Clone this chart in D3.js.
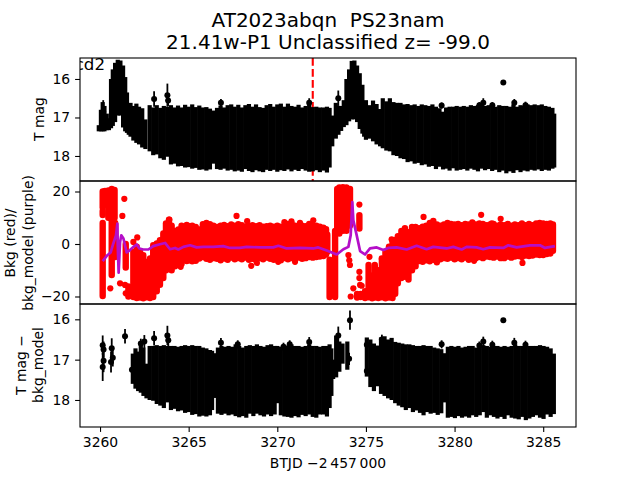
<!DOCTYPE html>
<html>
<head>
<meta charset="utf-8">
<script src="https://cdn.jsdelivr.net/npm/d3@7/dist/d3.min.js"></script>
<style>
    html, body { margin: 0; padding: 0; background: #fff; }
    svg { display: block; }
    text { font-family: "DejaVu Sans", sans-serif; fill: #000; white-space: pre; }
    .tick text { font-size: 13.9px; }
    .tick line, .domain { stroke: #000; stroke-width: 1.1px; }
</style>
</head>
<body>
<svg id="chart" width="640" height="480"></svg>
<script>
'use strict'

const titleLines = ['AT2023abqn  PS23nam', '21.41w-P1 Unclassified z= -99.0']
const sectorLabel = 's72 cam3ccd2'
const xLabel = 'BTJD \u22122\u2009457\u2009000'
const xTicks = [3260, 3265, 3270, 3275, 3280, 3285]
const magTicks = [16, 17, 18]
const bkgTicks = [-20, 0, 20]
const discoveryDate = 3272.0

// [BTJD, brightest edge, faintest edge]
const magBand = [
    [3259.93, 17.2, 17.36], [3260.05, 16.8, 17.36], [3260.15, 16.6, 17.36], [3260.25, 16.7, 17.36], [3260.38, 16.9, 17.33],
    [3260.5, 17.02, 17.33], [3260.62, 16.0, 17.28], [3260.72, 15.75, 17.22], [3260.85, 15.58, 17.12], [3261.0, 15.5, 16.95],
    [3261.15, 15.52, 16.95], [3261.3, 15.65, 17.26], [3261.42, 15.95, 17.36], [3261.52, 16.35, 17.4], [3261.62, 16.75, 17.45], [3261.72, 16.62, 17.5],
    [3261.88, 16.7, 17.6], [3262.05, 16.64, 17.66], [3262.2, 16.72, 17.7], [3262.38, 16.76, 17.78], [3262.56, 17.05, 17.82],
    [3262.8, 16.68, 17.88], [3263.0, 16.74, 17.98], [3263.2, 16.68, 17.96], [3263.4, 16.75, 18.06], [3263.6, 16.7, 18.1],
    [3263.8, 16.72, 18.02], [3264.0, 16.68, 18.22], [3264.2, 16.74, 18.2], [3264.4, 16.69, 18.27], [3264.6, 16.74, 18.26],
    [3264.8, 16.67, 18.3], [3265.0, 16.72, 18.29], [3265.2, 16.66, 18.33], [3265.4, 16.73, 18.31], [3265.6, 16.69, 18.36],
    [3265.8, 16.74, 18.35], [3266.0, 16.73, 18.38], [3266.2, 16.77, 18.35], [3266.4, 16.82, 18.2], [3266.6, 16.75, 18.34],
    [3266.8, 16.69, 18.36], [3267.0, 16.74, 18.33], [3267.2, 16.68, 18.38], [3267.4, 16.66, 18.36], [3267.6, 16.72, 18.4],
    [3267.8, 16.67, 18.38], [3268.0, 16.74, 18.41], [3268.2, 16.68, 18.34], [3268.4, 16.65, 18.39], [3268.6, 16.72, 18.42],
    [3268.8, 16.66, 18.37], [3269.0, 16.73, 18.4], [3269.2, 16.75, 18.42], [3269.4, 16.68, 18.36], [3269.6, 16.65, 18.39],
    [3269.8, 16.72, 18.36], [3270.0, 16.66, 18.41], [3270.2, 16.64, 18.37], [3270.4, 16.72, 18.39], [3270.6, 16.64, 18.35],
    [3270.8, 16.7, 18.4], [3271.0, 16.72, 18.36], [3271.2, 16.67, 18.39], [3271.4, 16.74, 18.34], [3271.6, 16.7, 18.38],
    [3271.8, 16.66, 18.41], [3272.0, 16.73, 18.4], [3272.2, 16.72, 18.37], [3272.4, 16.74, 18.42], [3272.6, 16.74, 18.38],
    [3272.8, 16.72, 18.43], [3272.95, 16.75, 18.3], [3273.1, 16.95, 17.75], [3273.3, 16.62, 17.55], [3273.45, 16.7, 17.45],
    [3273.6, 16.7, 17.35], [3273.75, 16.55, 17.25], [3273.9, 16.0, 17.2], [3274.05, 15.75, 17.1], [3274.2, 15.53, 17.05],
    [3274.35, 15.52, 17.05], [3274.5, 15.65, 17.12], [3274.65, 15.85, 17.3], [3274.8, 16.15, 17.42], [3274.9, 16.6, 17.5], [3275.0, 16.55, 17.58],
    [3275.2, 16.68, 17.55], [3275.4, 16.56, 17.62], [3275.6, 16.65, 17.7], [3275.8, 16.78, 17.75], [3275.95, 16.5, 17.8],
    [3276.15, 16.58, 17.86], [3276.35, 16.5, 17.88], [3276.55, 16.6, 17.98], [3276.75, 16.62, 18.0], [3276.95, 16.62, 18.06],
    [3277.15, 16.66, 18.08], [3277.35, 16.65, 18.16], [3277.55, 16.68, 18.14], [3277.75, 16.66, 18.2], [3277.95, 16.7, 18.18],
    [3278.15, 16.66, 18.24], [3278.35, 16.68, 18.22], [3278.55, 16.7, 18.28], [3278.75, 16.66, 18.26], [3278.95, 16.72, 18.34],
    [3279.15, 16.76, 18.28], [3279.35, 16.85, 18.35], [3279.52, 16.74, 18.33], [3279.72, 16.72, 18.38], [3279.92, 16.72, 18.32],
    [3280.12, 16.7, 18.38], [3280.32, 16.72, 18.36], [3280.52, 16.7, 18.34], [3280.72, 16.72, 18.38], [3280.92, 16.68, 18.33],
    [3281.12, 16.7, 18.36], [3281.32, 16.68, 18.4], [3281.52, 16.64, 18.33], [3281.72, 16.7, 18.37], [3281.92, 16.68, 18.34],
    [3282.12, 16.66, 18.39], [3282.32, 16.72, 18.36], [3282.52, 16.68, 18.42], [3282.72, 16.7, 18.38], [3282.92, 16.7, 18.45],
    [3283.12, 16.72, 18.4], [3283.32, 16.66, 18.44], [3283.52, 16.72, 18.37], [3283.72, 16.68, 18.42], [3283.92, 16.7, 18.38],
    [3284.12, 16.66, 18.4], [3284.32, 16.68, 18.36], [3284.52, 16.66, 18.38], [3284.72, 16.68, 18.35], [3284.92, 16.66, 18.39],
    [3285.12, 16.7, 18.36], [3285.32, 16.72, 18.38], [3285.52, 16.75, 18.33], [3285.62, 16.9, 18.3]
]
// [BTJD, mag, error] for the points that stick out of the mass
const magOutliers = [
    [3260.18, 16.85, 0.3], [3263.05, 16.52, 0.2], [3263.8, 16.42, 0.3], [3263.84, 16.56, 0.14], [3266.82, 16.62, 0.1],
    [3271.8, 16.62, 0.12], [3273.44, 16.5, 0.2], [3279.27, 16.69, 0.08], [3281.4, 16.68, 0.08], [3281.62, 16.62, 0.12],
    [3282.13, 16.68, 0.08], [3282.75, 16.09, 0.02], [3283.37, 16.62, 0.1], [3284.0, 16.68, 0.09]
]

// [BTJD, top, bottom] of the red cloud, several rows where it has gaps
const bkgBand = [
    [3260.15, 20, 14], [3260.15, 12.6, 11], [3260.15, 8, -19.8], [3260.28, 20.2, 15], [3260.47, 20.4, 10], [3260.66, 21, -11.8],
    [3260.82, 20.6, 10], [3260.85, 8, -5], [3261.45, 0, -9], [3261.6, -16.2, -20], [3261.88, -3, -20.2], [3262.07, -1, -20.6],
    [3262.26, -3, -20.4], [3262.44, -4.3, -20.7], [3262.63, -6.8, -20.3], [3262.82, -5.5, -20.6], [3263.0, -0.5, -20.2], [3263.2, 0.2, -18],
    [3263.38, 1.4, -15.5], [3263.57, 4, -13], [3263.72, 7.8, -10], [3263.89, 9.3, -9.5], [3264.04, 7, -10], [3264.23, 5, -8.5],
    [3264.42, 5.5, -8], [3264.6, 7, -7.5], [3264.89, 7.3, -6.5], [3265.05, 6.8, -6.2], [3265.2, 7, -6.6], [3265.4, 6.5, -6.4],
    [3265.6, 5.5, -5.5], [3265.8, 7.5, -5], [3266.0, 8, -5.6], [3266.2, 7.5, -6], [3266.4, 7, -5.4], [3266.6, 6.5, -5.6],
    [3266.8, 7, -6.2], [3267.0, 7.3, -5.5], [3267.2, 6.8, -6], [3267.4, 7.4, -5.2], [3267.6, 7, -5.8], [3267.8, 7.5, -5.4],
    [3268.0, 7.2, -5.8], [3268.2, 6.6, -5.2], [3268.4, 7, -6], [3268.6, 7.2, -5.6], [3268.8, 6.8, -6.2], [3269.0, 7.2, -5.4],
    [3269.2, 6.6, -5.8], [3269.4, 6.8, -5.2], [3269.6, 7, -5.6], [3269.8, 6.6, -6], [3270.0, 7, -5.6], [3270.2, 6.6, -6.2],
    [3270.4, 7, -5.4], [3270.6, 7.6, -5.8], [3270.8, 7.8, -5.4], [3271.0, 7, -5.8], [3271.2, 6.8, -5.2], [3271.4, 7, -5.6],
    [3271.6, 6.8, -5.4], [3271.8, 7.6, -5], [3272.0, 7.2, -5.2], [3272.2, 7, -5], [3272.4, 6.6, -4.8], [3272.6, 6.2, -4.6],
    [3272.75, 5.6, -4], [3272.82, 3.5, -3], [3272.95, -6, -20.2], [3273.26, 5, -20.2], [3273.38, 21, 5],
    [3273.5, 21.5, 4], [3273.7, 21.6, 5], [3273.9, 21.5, 5], [3274.1, 21, 7], [3274.63, 11, 5.9], [3274.5, -19, -20.4],
    [3274.7, -19, -20.2], [3274.95, -18, -20.6], [3275.15, -8, -20.3], [3275.35, -12, -20.7], [3275.5, -8, -20.4], [3275.7, -10, -20.6],
    [3275.9, -6, -20.3], [3276.1, -3, -20.7], [3276.3, -1, -20.4], [3276.5, 1, -20.6], [3276.65, 1.5, -19], [3276.8, 3, -15],
    [3277.0, 5, -13], [3277.2, 6, -12.5], [3277.4, 4.5, -13.5], [3277.6, 6.5, -10], [3277.8, 6.5, -8.5], [3278.0, 6, -6.5],
    [3278.2, 6.6, -6.8], [3278.4, 7, -6.2], [3278.6, 8, -6.6], [3278.8, 8.8, -6], [3279.0, 7.4, -7], [3279.2, 7, -5.8],
    [3279.4, 7.4, -5.4], [3279.6, 8, -5.6], [3279.8, 7.6, -5.2], [3280.0, 7.4, -5.8], [3280.2, 7.6, -5.4], [3280.4, 7.2, -5.8],
    [3280.6, 7.6, -5.2], [3280.8, 7.4, -6], [3281.0, 8.2, -5.6], [3281.2, 7.4, -5.4], [3281.4, 7.8, -5], [3281.6, 7.6, -5.4],
    [3281.8, 7.2, -4.8], [3282.0, 7.4, -5], [3282.2, 7.6, -5.2], [3282.4, 7, -4.8], [3282.6, 7.4, -5.4], [3282.8, 7.2, -5.4],
    [3283.0, 7.6, -4.8], [3283.2, 7, -5.2], [3283.4, 7.4, -4.8], [3283.6, 7.2, -4.6], [3283.8, 7.8, -5], [3284.0, 7.2, -4.4],
    [3284.2, 7.6, -4.6], [3284.4, 7.2, -4.4], [3284.6, 7.8, -4], [3284.8, 8, -4.2], [3285.0, 7.8, -4.2], [3285.2, 7.6, -3.8],
    [3285.4, 7.8, -3.6], [3285.55, 7.4, -2.6]
]
// [BTJD, value] for the loose red points
const bkgOutliers = [
    [3260.58, -16.9], [3261.37, 17.2], [3261.26, 10.7], [3261.13, -15], [3261.41, -15.6], [3261.45, -18.8], [3261.88, 0.8], [3262.1, 2.5],
    [3263.91, 9.3], [3264.55, -8.7], [3267.7, 10.7], [3268.3, 8.7], [3268.53, -8.3], [3268.85, -7.2], [3270.4, 8.3], [3270.8, 8.6],
    [3271.28, 8.1], [3272.03, 9.0], [3270.05, -6.8], [3271.0, -6.8], [3274.01, -4.2], [3274.1, -8], [3274.06, -6.2], [3274.14, -20], [3274.29, -16.9],
    [3274.63, 15], [3274.63, -10.6], [3274.63, -13], [3274.67, -15.6], [3274.76, -15.9], [3275.2, -4.9], [3275.89, -5.5], [3276.45, 1.8],
    [3278.25, 10.3], [3281.5, 11.1], [3282.1, 7.9], [3282.6, 9.6], [3283.83, -7.2], [3281.1, -6.4]
]
// [BTJD, value] for the purple model line
const bkgModel = [
    [3260.15, -6.5], [3260.38, -4.5], [3260.6, -3.2], [3260.75, 0.2], [3260.9, 3.3], [3260.98, 7.8], [3261.0, -0.5], [3261.05, -10.9],
    [3261.13, 0.8], [3261.2, 3.3], [3261.32, 2.1], [3261.5, -3.2], [3261.69, -2.3], [3261.88, -1.1], [3262.07, -0.2], [3262.22, -1.7],
    [3262.44, -2.1], [3262.73, -2.1], [3263.0, -0.8], [3263.38, -0.1], [3263.67, 0.4], [3263.95, -2.0], [3264.23, -1.5], [3264.42, -2.1],
    [3264.7, -1.1], [3265.08, -0.5], [3265.45, -1.3], [3265.83, -1.1], [3266.39, -1.1], [3266.95, -0.8], [3267.33, -1.5], [3267.89, -1.5],
    [3268.27, -1.1], [3269.02, -1.3], [3269.77, -1.3], [3270.06, -0.7], [3270.53, -1.7], [3271.28, -1.5], [3272.03, -1.7], [3272.31, -1.3],
    [3272.79, -2.5], [3273.35, -4.0], [3273.73, -2.0], [3274.01, -1.1], [3274.14, 3.3], [3274.23, 16.0], [3274.29, 9.0], [3274.48, 3.3],
    [3274.67, -2.7], [3274.95, -4.0], [3275.23, -1.7], [3275.61, -1.3], [3275.98, -2.3], [3276.26, -1.5], [3276.73, -1.3], [3277.3, -2.1],
    [3277.86, -0.7], [3278.42, -2.0], [3278.8, -1.1], [3279.55, -1.7], [3279.93, -1.1], [3280.4, -2.1], [3280.68, -1.1], [3281.24, -1.3],
    [3281.62, -2.0], [3282.0, -1.3], [3282.75, -1.5], [3283.03, -0.5], [3283.5, -1.3], [3284.25, -0.5], [3284.82, -0.5], [3285.1, -1.5],
    [3285.66, -0.8]
]

const diffBand = [
    [3261.85, 16.85, 17.6], [3262.0, 16.72, 17.72], [3262.15, 16.8, 17.78], [3262.3, 16.62, 17.82], [3262.45, 16.7, 17.9], [3262.62, 17.1, 17.96],
    [3262.8, 16.66, 18.0], [3263.0, 16.66, 18.02], [3263.2, 16.64, 18.1], [3263.4, 16.66, 18.14], [3263.6, 16.64, 18.2], [3263.8, 16.66, 18.06],
    [3264.0, 16.66, 18.25], [3264.2, 16.66, 18.22], [3264.4, 16.68, 18.28], [3264.6, 16.66, 18.26], [3264.8, 16.64, 18.32], [3265.0, 16.66, 18.3],
    [3265.2, 16.64, 18.37], [3265.4, 16.66, 18.35], [3265.6, 16.66, 18.41], [3265.8, 16.7, 18.39], [3266.0, 16.72, 18.41], [3266.2, 16.76, 18.38],
    [3266.32, 16.78, 18.25], [3266.45, 16.84, 17.95], [3266.65, 16.7, 18.34], [3266.85, 16.66, 18.37], [3267.05, 16.68, 18.34], [3267.25, 16.66, 18.38], [3267.45, 16.68, 18.36],
    [3267.65, 16.62, 18.4], [3267.85, 16.66, 18.43], [3268.05, 16.7, 18.4], [3268.25, 16.66, 18.44], [3268.45, 16.64, 18.34], [3268.65, 16.66, 18.4],
    [3268.85, 16.62, 18.34], [3269.05, 16.66, 18.38], [3269.25, 16.68, 18.41], [3269.45, 16.64, 18.36], [3269.65, 16.62, 18.4], [3269.85, 16.66, 18.36],
    [3270.0, 16.66, 18.08], [3270.2, 16.68, 18.38], [3270.4, 16.64, 18.41], [3270.6, 16.66, 18.42], [3270.8, 16.62, 18.44], [3271.0, 16.66, 18.4],
    [3271.2, 16.66, 18.43], [3271.4, 16.68, 18.37], [3271.6, 16.66, 18.4], [3271.8, 16.62, 18.36], [3272.0, 16.66, 18.42], [3272.2, 16.66, 18.44],
    [3272.4, 16.68, 18.36], [3272.6, 16.66, 18.36], [3272.8, 16.66, 18.41], [3272.95, 16.62, 18.2], [3273.05, 16.72, 17.9], [3273.15, 17.0, 17.48],
    [3273.32, 16.4, 17.44], [3273.5, 16.55, 17.3], [3273.68, 16.6, 17.1], [3273.95, 16.55, 17.25], [3275.05, 16.45, 17.42], [3275.25, 16.5, 17.68],
    [3275.45, 16.6, 17.78], [3275.65, 16.65, 17.66], [3275.85, 16.45, 17.85], [3276.05, 16.42, 17.9], [3276.25, 16.5, 17.96], [3276.45, 16.46, 18.0],
    [3276.65, 16.56, 18.08], [3276.85, 16.58, 18.14], [3277.05, 16.6, 18.18], [3277.25, 16.62, 18.25], [3277.45, 16.62, 18.2], [3277.65, 16.64, 18.3],
    [3277.85, 16.66, 18.26], [3278.05, 16.66, 18.32], [3278.25, 16.64, 18.38], [3278.45, 16.66, 18.3], [3278.65, 16.66, 18.34], [3278.85, 16.7, 18.32],
    [3279.05, 16.72, 18.37], [3279.25, 16.74, 18.33], [3279.42, 16.84, 18.06], [3279.62, 16.68, 18.44], [3279.82, 16.66, 18.42], [3280.02, 16.68, 18.45],
    [3280.22, 16.66, 18.4], [3280.42, 16.7, 18.44], [3280.62, 16.68, 18.41], [3280.82, 16.66, 18.44], [3281.02, 16.66, 18.38], [3281.22, 16.7, 18.42],
    [3281.42, 16.68, 18.38], [3281.62, 16.64, 18.3], [3281.82, 16.66, 18.44], [3282.02, 16.68, 18.38], [3282.22, 16.66, 18.42], [3282.42, 16.66, 18.46],
    [3282.62, 16.68, 18.42], [3282.82, 16.66, 18.47], [3283.02, 16.68, 18.38], [3283.22, 16.66, 18.44], [3283.42, 16.62, 18.46], [3283.62, 16.66, 18.48],
    [3283.82, 16.66, 18.42], [3284.02, 16.62, 18.5], [3284.22, 16.66, 18.46], [3284.42, 16.66, 18.42], [3284.62, 16.66, 18.38], [3284.82, 16.64, 18.44],
    [3285.02, 16.66, 18.47], [3285.22, 16.68, 18.36], [3285.42, 16.72, 18.42], [3285.6, 16.85, 18.35]
]
const diffOutliers = [
    [3260.15, 16.64, 0.24], [3260.2, 16.75, 0.2], [3260.2, 17.03, 0.28], [3260.15, 17.18, 0.35], [3260.66, 16.72, 0.25], [3260.72, 16.95, 0.22],
    [3260.62, 17.06, 0.26], [3261.41, 16.42, 0.18], [3261.8, 17.25, 0.1], [3262.5, 16.55, 0.16], [3262.3, 16.6, 0.12], [3263.05, 16.47, 0.18],
    [3263.8, 16.4, 0.24], [3263.85, 16.52, 0.16], [3266.82, 16.58, 0.12], [3267.77, 16.62, 0.1], [3270.35, 16.68, 0.1], [3270.7, 16.62, 0.1],
    [3271.8, 16.56, 0.12], [3273.44, 16.4, 0.22], [3274.05, 16.98, 0.15], [3274.1, 16.02, 0.24], [3275.05, 16.63, 0.14], [3275.05, 17.28, 0.12],
    [3275.9, 16.5, 0.12], [3279.27, 16.62, 0.1], [3281.4, 16.65, 0.1], [3281.62, 16.55, 0.12], [3282.13, 16.63, 0.1], [3282.75, 16.02, 0.02],
    [3283.37, 16.58, 0.12], [3284.0, 16.63, 0.1]
]

const margin = { left: 80, right: 64, top: 58, bottom: 53 }
const panelHeight = 123
const plotWidth = 640 - margin.left - margin.right

const x = d3.scaleLinear().domain([3258.87, 3286.85]).range([0, plotWidth])
const yMag = d3.scaleLinear().domain([15.455, 18.65]).range([0, panelHeight])
const yBkg = d3.scaleLinear().domain([24, -22.86]).range([0, panelHeight])
const yDiff = d3.scaleLinear().domain([15.62, 18.67]).range([0, panelHeight])

const svg = d3.select('#chart')
svg.append('defs').selectAll('clipPath')
    .data([0, 1, 2])
    .enter().append('clipPath')
    .attr('id', (d) => 'clip' + d)
    .append('rect')
    .attr('width', plotWidth)
    .attr('height', panelHeight)

function addPanel(i) {
    return svg.append('g')
        .attr('transform', 'translate(' + margin.left + ',' + (margin.top + i * panelHeight) + ')')
}

function drawBox(panel) {
    panel.append('rect')
        .attr('width', plotWidth)
        .attr('height', panelHeight)
        .attr('fill', 'none')
        .attr('stroke', '#000')
        .attr('stroke-width', 1.1)
}

function drawBand(group, rows, y, color, width, cap) {
    group.append('g').selectAll('line')
        .data(rows)
        .enter().append('line')
        .attr('x1', (d) => x(d[0]))
        .attr('x2', (d) => x(d[0]))
        .attr('y1', (d) => y(d[1]))
        .attr('y2', (d) => y(d[2]))
        .attr('stroke', color)
        .attr('stroke-width', width)
        .attr('stroke-linecap', cap)
}

function drawErrorPoints(group, rows, y) {
    group.append('g').selectAll('line')
        .data(rows)
        .enter().append('line')
        .attr('x1', (d) => x(d[0]))
        .attr('x2', (d) => x(d[0]))
        .attr('y1', (d) => y(d[1] - d[2]))
        .attr('y2', (d) => y(d[1] + d[2]))
        .attr('stroke', '#000')
        .attr('stroke-width', 1.8)
    group.append('g').selectAll('circle')
        .data(rows)
        .enter().append('circle')
        .attr('cx', (d) => x(d[0]))
        .attr('cy', (d) => y(d[1]))
        .attr('r', 3)
        .attr('fill', '#000')
}

// top panel
const magPanel = addPanel(0)
const magPlot = magPanel.append('g').attr('clip-path', 'url(#clip0)')
magPlot.append('line')
    .attr('x1', x(discoveryDate))
    .attr('x2', x(discoveryDate))
    .attr('y1', 0)
    .attr('y2', panelHeight)
    .attr('stroke', '#f00')
    .attr('stroke-width', 2.1)
    .attr('stroke-dasharray', '7.7,3.3')
magPlot.append('text')
    .attr('x', 25)
    .attr('y', 12)
    .style('font-size', '16.67px')
    .text(sectorLabel)
drawBand(magPlot, magBand, yMag, '#000', 4.2, 'butt')
drawErrorPoints(magPlot, magOutliers, yMag)
magPanel.call(d3.axisLeft(yMag).tickValues(magTicks).tickFormat(d3.format('d')).tickSize(4.9).tickPadding(4.9))

// background panel
const bkgPanel = addPanel(1)
const bkgPlot = bkgPanel.append('g').attr('clip-path', 'url(#clip1)')
drawBand(bkgPlot, bkgBand, yBkg, '#f00', 6.4, 'round')
bkgPlot.append('g').selectAll('circle')
    .data(bkgOutliers)
    .enter().append('circle')
    .attr('cx', (d) => x(d[0]))
    .attr('cy', (d) => yBkg(d[1]))
    .attr('r', 3.1)
    .attr('fill', '#f00')
bkgPlot.append('path')
    .datum(bkgModel)
    .attr('fill', 'none')
    .attr('stroke', '#b40fc8')
    .attr('stroke-width', 2.7)
    .attr('stroke-linejoin', 'round')
    .attr('d', d3.line().x((d) => x(d[0])).y((d) => yBkg(d[1])))
bkgPanel.call(d3.axisLeft(yBkg).tickValues(bkgTicks).tickFormat((d) => String(d).replace('-', '\u2212')).tickSize(4.9).tickPadding(4.9))

// difference panel
const diffPanel = addPanel(2)
const diffPlot = diffPanel.append('g').attr('clip-path', 'url(#clip2)')
drawBand(diffPlot, diffBand, yDiff, '#000', 4.2, 'butt')
drawErrorPoints(diffPlot, diffOutliers, yDiff)
diffPanel.call(d3.axisLeft(yDiff).tickValues(magTicks).tickFormat(d3.format('d')).tickSize(4.9).tickPadding(4.9))
diffPanel.append('g')
    .attr('transform', 'translate(0,' + panelHeight + ')')
    .call(d3.axisBottom(x).tickValues(xTicks).tickFormat(d3.format('d')).tickSize(4.9).tickPadding(4.9))

// d3 draws its own domain line, the frame below covers all four sides
svg.selectAll('.domain').remove()
;[magPanel, bkgPanel, diffPanel].forEach(drawBox)

// titles and labels
svg.append('g').selectAll('text')
    .data(titleLines)
    .enter().append('text')
    .attr('x', 328)
    .attr('y', (d, i) => 27 + i * 22.4)
    .attr('text-anchor', 'middle')
    .style('font-size', '20px')
    .text((d) => d)

svg.append('text')
    .attr('x', 328)
    .attr('y', 468)
    .attr('text-anchor', 'middle')
    .style('font-size', '13.9px')
    .text(xLabel)

function addYLabel(lines, cx, cy) {
    const g = svg.append('g')
        .attr('transform', 'translate(' + cx + ',' + cy + ') rotate(-90)')
    g.selectAll('text')
        .data(lines)
        .enter().append('text')
        .attr('y', (d, i) => (i - (lines.length - 1) / 2) * 17.5)
        .attr('dy', '0.35em')
        .attr('text-anchor', 'middle')
        .style('font-size', '13.9px')
        .text((d) => d)
}
addYLabel(['T mag'], 39, 119)
addYLabel(['Bkg (red)/', 'bkg_model (purple)'], 19, 243)
addYLabel(['T mag \u2212', 'bkg_model'], 29.5, 365)
</script>
</body>
</html>
